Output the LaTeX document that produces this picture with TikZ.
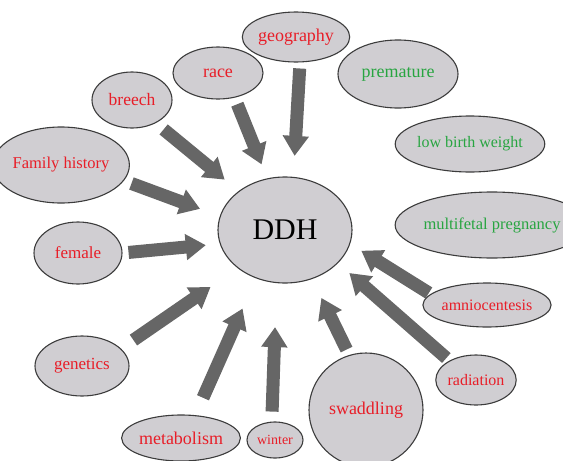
\documentclass[tikz,border=0pt]{standalone}
\usepackage{fontspec}
\setmainfont{Liberation Serif}
\usetikzlibrary{shapes.geometric, arrows.meta}

\definecolor{ellipsefill}{RGB}{208,206,210}
\definecolor{edgegray}{RGB}{60,60,60}
\definecolor{riskred}{RGB}{232,30,40}
\definecolor{leafgreen}{RGB}{40,165,65}
\definecolor{arrowgray}{RGB}{102,102,102}

\begin{document}
\begin{tikzpicture}[x=1pt, y=-1pt,
    factor/.style={ellipse, draw=edgegray, fill=ellipsefill, line width=1.1pt,
        inner sep=0pt, text=riskred},
    nolink/.style={factor, text=leafgreen},
    feeds/.style={draw=arrowgray, line width=13pt, -{Triangle[width=25pt,length=20pt]}}]
    \useasboundingbox (0,0) rectangle (563,461);

    % Centre
    \node[factor, text=black, minimum width=134pt, minimum height=106pt,
        font=\fontsize{30}{32}\selectfont] (ddh) at (285,230) {DDH};

    % Risk factors (red)
    \node[factor, minimum width=96pt, minimum height=50pt, font=\fontsize{18}{20}\selectfont] (geography) at (296,37) {geography};
    \node[factor, minimum width=90pt, minimum height=52pt, font=\fontsize{18}{20}\selectfont] (race) at (218,73) {race};
    \node[factor, minimum width=80pt, minimum height=56pt, font=\fontsize{17.5}{20}\selectfont] (breech) at (132,100) {breech};
    \node[factor, minimum width=104pt, minimum height=76pt, font=\fontsize{16.5}{18}\selectfont] (famhist) at (61,165) {Family history};
    \node[factor, minimum width=88pt, minimum height=62pt, font=\fontsize{17}{19}\selectfont] (female) at (78,253) {female};
    \node[factor, minimum width=94pt, minimum height=60pt, font=\fontsize{17}{19}\selectfont] (genetics) at (82,366) {genetics};
    \node[factor, minimum width=92pt, minimum height=46pt, font=\fontsize{18}{20}\selectfont] (metabolism) at (181,438) {metabolism};
    \node[factor, minimum width=56pt, minimum height=36pt, font=\fontsize{14}{16}\selectfont] (winter) at (275,440) {winter};
    \node[factor, minimum width=114pt, minimum height=114pt, font=\fontsize{18}{20}\selectfont] (swaddling) at (366,410) {swaddling};
    \node[factor, minimum width=68pt, minimum height=50pt, font=\fontsize{16}{18}\selectfont] (radiation) at (476,380) {radiation};
    \node[factor, minimum width=108pt, minimum height=44pt, font=\fontsize{16}{18}\selectfont] (amnio) at (487,305) {amniocentesis};

    % Unlinked factors (green)
    \node[nolink, minimum width=120pt, minimum height=68pt, font=\fontsize{18}{20}\selectfont] (premature) at (398,74) {premature};
    \node[nolink, minimum width=146pt, minimum height=56pt, font=\fontsize{16}{18}\selectfont] (lbw) at (470,144) {low birth weight};
    \node[nolink, minimum width=144pt, minimum height=66pt, font=\fontsize{16.5}{18}\selectfont] (multifetal) at (492,225) {multifetal pregnancy};

    % Arrows into DDH
    \draw[feeds, shorten <=6pt, shorten >=21pt] (geography.-81) -- (ddh.81);
    \draw[feeds, shorten <=7pt, shorten >=15pt] (race.-56) -- (ddh.109);
    \draw[feeds, shorten <=10pt, shorten >=18pt] (breech.-44) -- (ddh.140);
    \draw[feeds, shorten <=8pt, shorten >=21pt] (famhist.-14) -- (ddh.168);
    \draw[feeds, shorten <=6pt, shorten >=14pt] (female.0) -- (ddh.192);
    \draw[feeds, shorten <=15pt, shorten >=33pt] (genetics.24) -- (ddh.219);
    \draw[feeds, shorten <=19pt, shorten >=33pt] (metabolism.58) -- (ddh.239);
    \draw[feeds, shorten <=10pt, shorten >=44pt] (winter.100) -- (ddh.261);
    \draw[feeds, shorten <=6pt, shorten >=21pt] (swaddling.107) -- (ddh.-61);
    \draw[feeds, shorten <=4pt, shorten >=15pt] (radiation.144) -- (ddh.-32);
    \draw[feeds, shorten <=2pt, shorten >=13pt] (amnio.169) -- (ddh.-12);
\end{tikzpicture}
\end{document}
